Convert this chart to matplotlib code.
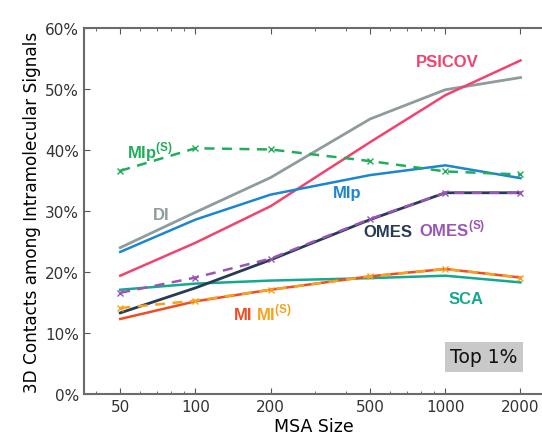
import numpy as np
import matplotlib
matplotlib.use("Agg")
import matplotlib.pyplot as plt
from matplotlib.ticker import FixedLocator, NullFormatter, FuncFormatter, LogLocator

# MSA sizes and fraction of 3D contacts (%) per method, top 1% of signals
msa_size = [50, 100, 200, 500, 1000, 2000]
psicov   = [19.4, 24.8, 30.8, 41.3, 49.0, 54.7]
di       = [24.0, 29.8, 35.5, 45.1, 49.9, 51.9]
mip      = [23.3, 28.6, 32.7, 35.9, 37.5, 35.4]
mip_s    = [36.6, 40.3, 40.1, 38.2, 36.5, 36.0]
omes     = [13.3, 17.4, 22.0, 28.6, 33.0, 33.0]
omes_s   = [16.6, 19.1, 22.2, 28.7, 33.0, 33.0]
sca      = [17.1, 18.1, 18.6, 19.0, 19.4, 18.3]
mi       = [12.3, 15.2, 17.1, 19.3, 20.5, 19.1]
mi_s     = [14.1, 15.3, 17.1, 19.3, 20.5, 19.1]

C_PSICOV = "#f2426e"
C_DI     = "#8f9b9d"
C_MIP    = "#1c86cf"
C_MIPS   = "#22ad5c"
C_OMES   = "#283a55"
C_OMESS  = "#9a55b8"
C_SCA    = "#14a88f"
C_MI     = "#f24b23"
C_MIS    = "#f7a21e"

fig = plt.figure(figsize=(5.42, 4.35), dpi=100)
ax = fig.add_axes([0.155, 0.092, 0.85, 0.841])

# solid lines first, dashed (shuffled) variants on top
ax.plot(msa_size, di,     color=C_DI,     lw=2)
ax.plot(msa_size, psicov, color=C_PSICOV, lw=1.8)
ax.plot(msa_size, mip,    color=C_MIP,    lw=1.8)
ax.plot(msa_size, sca,    color=C_SCA,    lw=1.8)
ax.plot(msa_size, omes,   color=C_OMES,   lw=2)
ax.plot(msa_size, mi,     color=C_MI,     lw=1.8)
ax.plot(msa_size, mip_s,  color=C_MIPS,   lw=1.8, ls=(0, (4, 3)), marker="x", ms=5, mew=1)
ax.plot(msa_size, omes_s, color=C_OMESS,  lw=1.8, ls=(0, (4, 3)), marker="x", ms=5, mew=1)
ax.plot(msa_size, mi_s,   color=C_MIS,    lw=1.8, ls=(0, (4, 3)), marker="x", ms=5, mew=1)

ax.set_xscale("log")
ax.set_xlim(35.8, 2500)
ax.set_ylim(0, 60)

ax.xaxis.set_major_locator(FixedLocator(msa_size))
ax.xaxis.set_major_formatter(FuncFormatter(lambda v, p: f"{int(v)}"))
ax.xaxis.set_minor_locator(LogLocator(base=10, subs=np.arange(2, 10)))
ax.xaxis.set_minor_formatter(NullFormatter())
ax.set_yticks(range(0, 61, 10))
ax.yaxis.set_major_formatter(FuncFormatter(lambda v, p: f"{int(v)}%"))

ax.tick_params(which="both", direction="in", top=True, colors="#555555",
               labelcolor="#333333", labelsize=11)
ax.tick_params(which="major", length=4)
ax.tick_params(which="minor", length=2)
for side in ["left", "bottom", "top"]:
    ax.spines[side].set_color("#6e6a6a")
    ax.spines[side].set_linewidth(1.5)
ax.spines["right"].set_visible(False)

ax.set_xlabel("MSA Size", fontsize=12.5, labelpad=2)
ax.set_ylabel("3D Contacts among Intramolecular Signals", fontsize=12.2, labelpad=3)

# method names placed next to their curves, on a common baseline
lab = dict(fontsize=12, fontweight="bold", family="Liberation Sans", va="baseline")
sup = r"$^{\mathregular{(S)}}$"
ax.text(760, 53.85, "PSICOV", color=C_PSICOV, **lab)
ax.text(53.3, 38.75, "MIp" + sup, color=C_MIPS, **lab)
ax.text(67.8, 28.65, "DI", color=C_DI, **lab)
ax.text(355, 32.25, "MIp", color=C_MIP, **lab)
ax.text(472, 25.95, "OMES", color=C_OMES, **lab)
ax.text(787, 25.95, "OMES" + sup, color=C_OMESS, **lab)
ax.text(1035, 14.85, "SCA", color=C_SCA, **lab)
ax.text(142, 12.25, "MI", color=C_MI, **lab)
ax.text(174, 12.25, "MI" + sup, color=C_MIS, **lab)

ax.text(1430, 6.1, "Top 1%", fontsize=13.5, ha="center", va="center", color="#111111",
        bbox=dict(boxstyle="square,pad=0.3", fc="#c9c9c9", ec="none"))

fig.savefig("out.png", dpi=100)
